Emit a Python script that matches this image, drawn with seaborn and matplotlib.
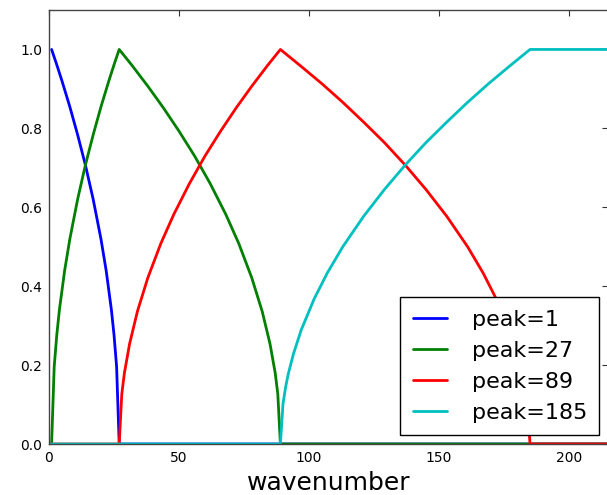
import numpy as np
import matplotlib
matplotlib.use('Agg')
import matplotlib.pyplot as plt
import seaborn as sns

# values
x_peak1 = [1, 3, 5, 8, 11, 14, 17, 20, 22, 24, 25, 26, 27, 215]
y_peak1 = [1.0, 0.961, 0.920, 0.855, 0.784, 0.707, 0.620, 0.519, 0.439, 0.340, 0.277, 0.196, 0, 0]

x_peak27 = [0, 1, 2, 3, 4, 6, 8, 11, 14, 17, 20, 23, 25, 27,
            32, 38, 44, 50, 56, 62, 68, 73, 78, 82, 85, 87, 88, 89, 215]
y_peak27 = [0, 0, 0.196, 0.277, 0.340, 0.439, 0.519, 0.620, 0.707, 0.784, 0.855, 0.920, 0.961, 1.0,
            0.959, 0.907, 0.852, 0.793, 0.730, 0.660, 0.582, 0.508, 0.421, 0.336, 0.254, 0.180, 0.127, 0, 0]

x_peak89 = [0, 27, 28, 29, 31, 34, 38, 43, 48, 54, 60, 66, 72, 78, 84, 89,
            97, 105, 113, 121, 129, 137, 145, 153, 161, 167, 172, 177, 180, 182, 184, 185, 215]
y_peak89 = [0, 0, 0.127, 0.180, 0.254, 0.336, 0.421, 0.508, 0.582, 0.660, 0.730, 0.793, 0.852, 0.907, 0.959, 1.0,
            0.957, 0.913, 0.866, 0.816, 0.764, 0.707, 0.645, 0.577, 0.500, 0.433, 0.368, 0.289, 0.228, 0.177, 0.102, 0, 0]

x_peak185 = [0, 89, 90, 91, 92, 94, 97, 102, 107, 113, 121, 129, 137, 145, 153, 161, 169, 177, 185, 215]
y_peak185 = [0, 0, 0.102, 0.144, 0.177, 0.228, 0.289, 0.368, 0.433, 0.500, 0.577, 0.645, 0.707, 0.764,
             0.816, 0.866, 0.913, 0.957, 1.0, 1.0]

series = [
    ('peak=1', x_peak1, y_peak1, (0, 0, 1)),
    ('peak=27', x_peak27, y_peak27, (0, 0.5, 0)),
    ('peak=89', x_peak89, y_peak89, (1, 0, 0)),
    ('peak=185', x_peak185, y_peak185, (0, 0.75, 0.75)),
]

sns.set_style('white', {'xtick.direction': 'in', 'ytick.direction': 'in',
                        'axes.edgecolor': '#444444', 'text.color': 'black',
                        'axes.labelcolor': 'black', 'xtick.color': 'black',
                        'ytick.color': 'black'})
plt.rcParams['font.family'] = ['DejaVu Sans']

fig = plt.figure(figsize=(6.07, 4.95), dpi=100)
ax = fig.add_axes([49 / 607, 1 - 444 / 495, (608 - 49) / 607, (444 - 10) / 495])

for name, xs, ys, c in series:
    sns.lineplot(x=xs, y=ys, color=c, linewidth=2, label=name, estimator=None, ax=ax)

ax.set_xlim(0, 215)
ax.set_ylim(0, 1.1)
ax.set_xticks([0, 50, 100, 150, 200])
ax.set_yticks([0.0, 0.2, 0.4, 0.6, 0.8, 1.0])
ax.set_yticklabels(['0.0', '0.2', '0.4', '0.6', '0.8', '1.0'])
ax.tick_params(axis='both', which='major', labelsize=10, length=4, width=0.8,
               top=True, right=True, direction='in', color='#333333',
               labelcolor='black', pad=5)
ax.set_xlabel('wavenumber', fontsize=18, labelpad=4, color='black')
ax.set_ylabel('')
for s in ax.spines.values():
    s.set_linewidth(1.0)

leg = ax.legend(loc='lower right', fontsize=16, frameon=True, fancybox=False,
                framealpha=1.0, edgecolor='black', handlelength=1.55,
                handletextpad=1.1, labelspacing=0.5, borderpad=0.55,
                borderaxespad=0.4)
leg.get_frame().set_linewidth(1.0)
for t in leg.get_texts():
    t.set_color('black')

fig.savefig('out.png', dpi=100)
